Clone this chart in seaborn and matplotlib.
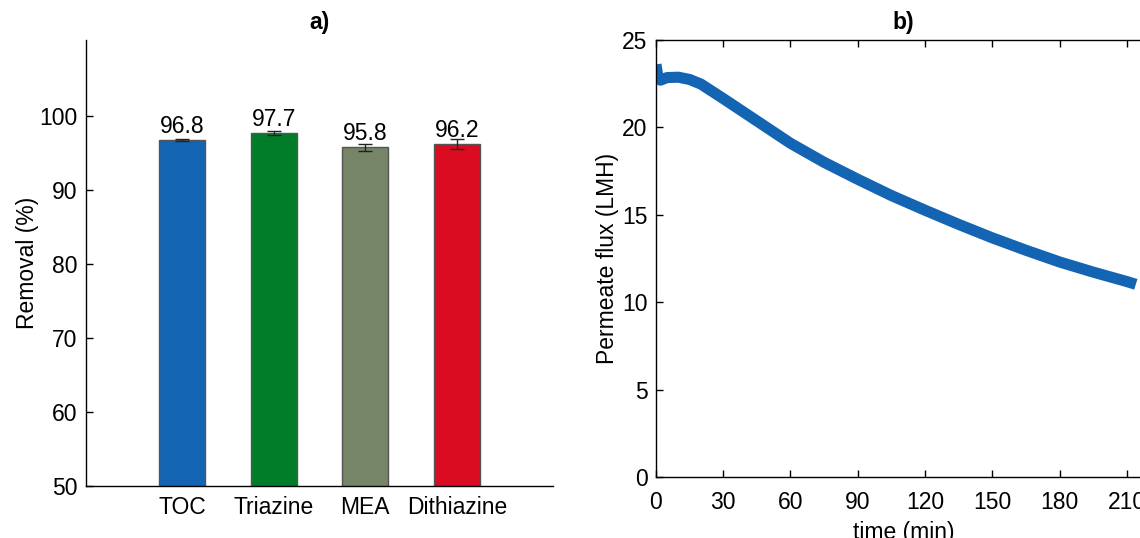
import numpy as np
import pandas as pd
import seaborn as sns
import matplotlib
matplotlib.use('Agg')
import matplotlib.pyplot as plt

# panel a) removal
categories = ['TOC', 'Triazine', 'MEA', 'Dithiazine']
removal = [96.8, 97.7, 95.8, 96.2]
removal_err = [0.1, 0.3, 0.5, 0.7]
bar_colors = ['#1464B4', '#017D2A', '#768467', '#D90C21']

# panel b) permeate flux
time_min = [0, 0.5, 1, 2, 5, 10, 15, 20, 30, 45, 60, 75, 90, 105, 120, 135, 150, 165, 180, 195, 210, 214]
flux_lmh = [23.6, 23.2, 22.8, 22.7, 22.85, 22.87, 22.74, 22.48, 21.65, 20.37, 19.09, 18.0, 17.03, 16.1,
            15.26, 14.45, 13.68, 12.97, 12.30, 11.72, 11.18, 11.02]

sns.set_style('white')
plt.rcParams['font.family'] = ['Liberation Sans', 'DejaVu Sans']
for k in ['text.color', 'axes.labelcolor', 'xtick.color', 'ytick.color']:
    plt.rcParams[k] = 'black'
fs = 16.5

fig = plt.figure(figsize=(11.4, 5.38), dpi=100)

# ---- a) ----
ax1 = fig.add_axes([0.0754, 0.0967, 0.4097, 0.829])
dfa = pd.DataFrame({'cat': categories, 'val': removal})
sns.barplot(data=dfa, x='cat', y='val', hue='cat', palette=bar_colors, width=0.5, saturation=1,
            edgecolor='#555555', linewidth=1, legend=False, ax=ax1)
ax1.errorbar(range(len(categories)), removal, yerr=removal_err, fmt='none',
             ecolor='#222222', elinewidth=1, capsize=5, capthick=1)
for i, v in enumerate(removal):
    ax1.text(i, v + 0.3, f'{v}', ha='center', va='bottom', fontsize=fs)
ax1.set_ylim(50, 110.3)
ax1.set_xlim(-1.05, 4.05)
ax1.set_yticks([50, 60, 70, 80, 90, 100])
ax1.set_xlabel('')
ax1.set_ylabel('Removal (%)', fontsize=fs, labelpad=0)
ax1.set_title('a)', fontweight='bold', fontsize=fs, pad=8)
for s in ['top', 'right']:
    ax1.spines[s].set_visible(False)
for s in ['left', 'bottom']:
    ax1.spines[s].set_color('black')
    ax1.spines[s].set_linewidth(1)
ax1.tick_params(axis='y', direction='in', length=5, width=1, left=True, pad=6, labelsize=fs)
ax1.tick_params(axis='x', length=0, pad=7, labelsize=fs)

# ---- b) ----
ax2 = fig.add_axes([0.5754, 0.1134, 0.4343, 0.8123])
dfb = pd.DataFrame({'time': time_min, 'flux': flux_lmh})
sns.lineplot(data=dfb, x='time', y='flux', color='#1464B4', linewidth=8, ax=ax2)
ax2.lines[0].set_solid_capstyle('butt')
ax2.set_xlim(0, 220.8)
ax2.set_ylim(0, 25)
ax2.set_xticks([0, 30, 60, 90, 120, 150, 180, 210])
ax2.set_yticks([0, 5, 10, 15, 20, 25])
ax2.set_xlabel('time (min)', fontsize=fs, labelpad=5)
ax2.set_ylabel('Permeate flux (LMH)', fontsize=fs, labelpad=2)
ax2.set_title('b)', fontweight='bold', fontsize=fs, pad=8)
for s in ax2.spines.values():
    s.set_visible(True)
    s.set_color('black')
    s.set_linewidth(1)
ax2.tick_params(direction='in', length=5, width=1, top=True, right=True, left=True, bottom=True,
                labelsize=fs, pad=6)
ax2.tick_params(axis='x', pad=10)

fig.savefig('out.png', dpi=100)
